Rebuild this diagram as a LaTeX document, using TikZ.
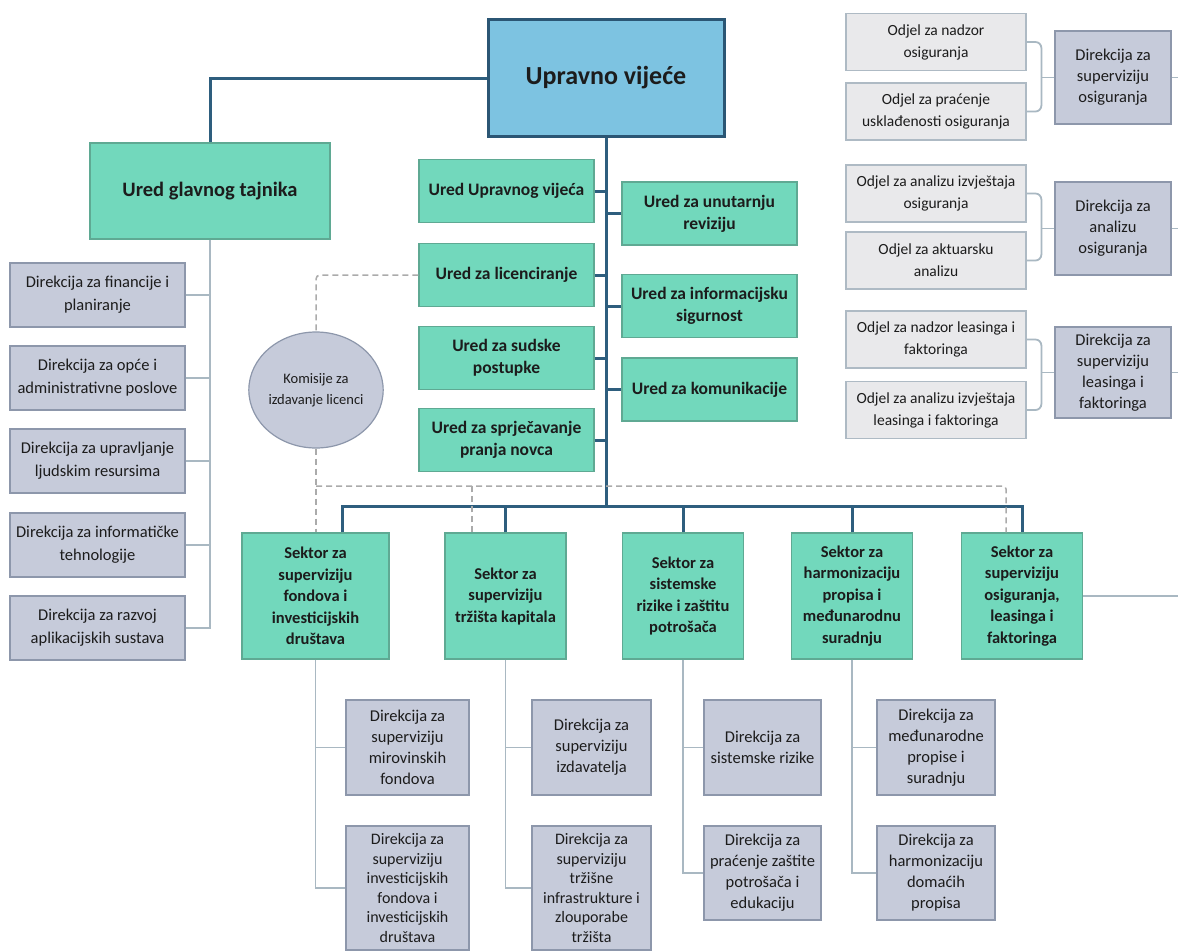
\documentclass[tikz,border=0pt]{standalone}
\usepackage{fontspec}
\setmainfont{Carlito}
\usepackage{tikz}
\usetikzlibrary{shapes.geometric}
\usetikzlibrary{positioning}
\definecolor{boardfill}{HTML}{7DC3E1}
\definecolor{boardline}{HTML}{2B5674}
\definecolor{officefill}{HTML}{72D8BC}
\definecolor{officeline}{HTML}{5FA993}
\definecolor{deptfill}{HTML}{C6CBDA}
\definecolor{deptline}{HTML}{8D97AB}
\definecolor{unitfill}{HTML}{E9E9EB}
\definecolor{unitline}{HTML}{AEBAC4}
\definecolor{trunkcol}{HTML}{2E5E7E}
\definecolor{subcol}{HTML}{A9B8C2}
\definecolor{dashcol}{HTML}{ABABAB}
\definecolor{inkcol}{HTML}{1C1C1C}

\begin{document}
\begin{tikzpicture}[x=1pt, y=-1pt,
			board/.style={draw=boardline, line width=3pt, fill=boardfill, rectangle, inner sep=0pt, minimum width=236pt, minimum height=117pt, font={\fontsize{26}{30}\selectfont\bfseries}},
			office/.style={draw=officeline, line width=1.2pt, fill=officefill, rectangle, inner sep=0pt, minimum width=175pt, minimum height=63pt, font={\fontsize{17.5}{22}\selectfont\bfseries}},
			sector/.style={office, minimum width=121pt, minimum height=126pt, font={\fontsize{16.5}{21.5}\selectfont\bfseries}},
			dept/.style={draw=deptline, line width=1.2pt, fill=deptfill, rectangle, inner sep=0pt, minimum width=175pt, minimum height=64pt, font={\fontsize{16.5}{21}\selectfont}},
			unit/.style={draw=unitline, line width=1.2pt, fill=unitfill, rectangle, inner sep=0pt, minimum width=180pt, minimum height=57pt, font={\fontsize{15.5}{22}\selectfont}},
			mainline/.style={draw=trunkcol, line width=3pt},
			subline/.style={draw=subcol, line width=1.8pt},
			dashline/.style={draw=dashcol, line width=1.5pt, dash pattern=on 6pt off 4pt},
			every node/.style={text=inkcol},
			every text node part/.style={align=center}]
			\useasboundingbox (0,0) rectangle (1178,951);
			\fill[white] (0,0) rectangle (1178,951);
			
			\node[board](upravno) at (606, 78) {Upravno vijeće};
			\node[office, minimum width=240pt, minimum height=96pt, font={\fontsize{20.5}{24}\selectfont\bfseries}](tajnik) at (210, 191) {Ured glavnog tajnika};
			\draw[mainline] (upravno.west) -| (tajnik.north);
			
			% direkcije glavnog tajnika
			\node[dept, font={\fontsize{16.5}{23}\selectfont}](financije) at (97.5, 295) {Direkcija za financije i\\planiranje};
			\node[dept, font={\fontsize{16.5}{23}\selectfont}](opce) at (97.5, 378) {Direkcija za opće i\\administrativne poslove};
			\node[dept, font={\fontsize{16.5}{23}\selectfont}](ljudski) at (97.5, 461) {Direkcija za upravljanje\\ljudskim resursima};
			\node[dept, font={\fontsize{16.5}{23}\selectfont}](informatika) at (97.5, 545) {Direkcija za informatičke\\tehnologije};
			\node[dept, font={\fontsize{16.5}{23}\selectfont}](razvoj) at (97.5, 628) {Direkcija za razvoj\\aplikacijskih sustava};
			\draw[subline] (tajnik.south) |- (razvoj.east);
			\foreach \d in {financije, opce, ljudski, informatika}
				\draw[subline] (\d.east) -- (\d.east -| tajnik.south);
			
			% uredi
			\node[office](uredUV) at (506.5, 191) {Ured Upravnog vijeća};
			\node[office](licenc) at (506.5, 275) {Ured za licenciranje};
			\node[office](sudske) at (506.5, 358) {Ured za sudske\\postupke};
			\node[office](novac) at (506.5, 440) {Ured za sprječavanje\\pranja novca};
			\node[office](revizija) at (709.5, 213.5) {Ured za unutarnju\\reviziju};
			\node[office](sigurnost) at (709.5, 306) {Ured za informacijsku\\sigurnost};
			\node[office](komunik) at (709.5, 389.5) {Ured za komunikacije};
			\foreach \u in {uredUV, licenc, sudske, novac}
				\draw[mainline] (\u.east) -- (\u.east -| upravno.south);
			\foreach \u in {revizija, sigurnost, komunik}
				\draw[mainline] (\u.west) -- (\u.west -| upravno.south);
			
			\node[ellipse, draw=deptline, line width=1.2pt, fill=deptfill, inner sep=0pt, minimum width=132pt, minimum height=116pt, font={\fontsize{14.5}{21}\selectfont}](komisija) at (316, 390) {Komisije za\\izdavanje licenci};
			
			% sektori
			\node[sector, minimum width=147pt](sfond) at (315.5, 596) {Sektor za\\superviziju\\fondova i\\investicijskih\\društava};
			\node[sector](skapital) at (505.5, 596) {Sektor za\\superviziju\\tržišta kapitala};
			\node[sector](srizik) at (683, 596) {Sektor za\\sistemske\\rizike i zaštitu\\potrošača};
			\node[sector](spropis) at (852, 596) {Sektor za\\harmonizaciju\\propisa i\\međunarodnu\\suradnju};
			\node[sector](sosig) at (1022, 596) {Sektor za\\superviziju\\osiguranja,\\leasinga i\\faktoringa};
			
			\coordinate (bus) at (606, 506);
			\coordinate (dashbus) at (316, 486);
			\coordinate (redge) at (1178, 0);
			\draw[mainline] (upravno.south) -- (bus);
			\draw[mainline] ([xshift=26.5pt]sfond.north) |- (bus) -| (sosig.north);
			\foreach \s in {skapital, srizik, spropis}
				\draw[mainline] (\s.north) -- (\s.north |- bus);
			\draw[subline] (sosig.east) -- (sosig.east -| redge);
			
			\draw[dashline, rounded corners=4pt] (licenc.west) -| (komisija.north);
			\draw[dashline] (komisija.south) -- (komisija.south |- sfond.north);
			\draw[dashline, rounded corners=3pt] (dashbus) -| ([xshift=-16pt]sosig.north);
			\draw[dashline] ([xshift=-33.5pt]skapital.north) -- ([xshift=-33.5pt]skapital.north |- dashbus);
			
			% direkcije sektora
			\node[dept, minimum width=123pt, minimum height=95pt](mirovinski) at (407.5, 747.5) {Direkcija za\\superviziju\\mirovinskih\\fondova};
			\node[dept, minimum width=123pt, minimum height=124pt, font={\fontsize{16}{19.5}\selectfont}](investicijski) at (407.5, 888) {Direkcija za\\superviziju\\investicijskih\\fondova i\\investicijskih\\društava};
			\node[dept, minimum width=119pt, minimum height=95pt](izdavatelji) at (591.5, 747.5) {Direkcija za\\superviziju\\izdavatelja};
			\node[dept, minimum width=119pt, minimum height=124pt, font={\fontsize{16}{19.5}\selectfont}](infrastruktura) at (591.5, 888) {Direkcija za\\superviziju\\tržišne\\infrastrukture i\\zlouporabe\\tržišta};
			\node[dept, minimum width=117pt, minimum height=95pt](sisrizik) at (762.5, 747.5) {Direkcija za\\sistemske rizike};
			\node[dept, minimum width=117pt, minimum height=94pt](potrosaci) at (762.5, 873) {Direkcija za\\praćenje zaštite\\potrošača i\\edukaciju};
			\node[dept, minimum width=118pt, minimum height=95pt](medjunarodni) at (936, 747.5) {Direkcija za\\međunarodne\\propise i\\suradnju};
			\node[dept, minimum width=118pt, minimum height=94pt](domaci) at (936, 873) {Direkcija za\\harmonizaciju\\domaćih\\propisa};
			
			\draw[subline] (sfond.south) |- (investicijski.west);
			\draw[subline] (mirovinski.west) -- (mirovinski.west -| sfond.south);
			\draw[subline] (skapital.south) |- (infrastruktura.west);
			\draw[subline] (izdavatelji.west) -- (izdavatelji.west -| skapital.south);
			\draw[subline] (srizik.south) |- (potrosaci.west);
			\draw[subline] (sisrizik.west) -- (sisrizik.west -| srizik.south);
			\draw[subline] (spropis.south) |- (domaci.west);
			\draw[subline] (medjunarodni.west) -- (medjunarodni.west -| spropis.south);
			
			% odjeli osiguranja, leasinga i faktoringa
			\node[unit](nadzor) at (936, 42) {Odjel za nadzor\\osiguranja};
			\node[unit](uskladjenost) at (936, 111.5) {Odjel za praćenje\\usklađenosti osiguranja};
			\node[dept, minimum width=116pt, minimum height=93pt](dsupervizija) at (1113, 77.5) {Direkcija za\\superviziju\\osiguranja};
			\node[unit](izvjestaji) at (936, 193.5) {Odjel za analizu izvještaja\\osiguranja};
			\node[unit](aktuar) at (936, 260.5) {Odjel za aktuarsku\\analizu};
			\node[dept, minimum width=116pt, minimum height=93pt](danaliza) at (1113, 228.5) {Direkcija za\\analizu\\osiguranja};
			\node[unit](nleasing) at (936, 339.5) {Odjel za nadzor leasinga i\\faktoringa};
			\node[unit](aleasing) at (936, 410) {Odjel za analizu izvještaja\\leasinga i faktoringa};
			\node[dept, minimum width=116pt, minimum height=91pt](dleasing) at (1113, 372.5) {Direkcija za\\superviziju\\leasinga i\\faktoringa};
			
			\draw[subline, rounded corners=6pt] (nadzor.east) -| ([xshift=-13pt]dsupervizija.west) |- (uskladjenost.east);
			\draw[subline] (dsupervizija.west) -- ([xshift=-13pt]dsupervizija.west);
			\draw[subline, rounded corners=6pt] (izvjestaji.east) -| ([xshift=-13pt]danaliza.west) |- (aktuar.east);
			\draw[subline] (danaliza.west) -- ([xshift=-13pt]danaliza.west);
			\draw[subline, rounded corners=6pt] (nleasing.east) -| ([xshift=-13pt]dleasing.west) |- (aleasing.east);
			\draw[subline] (dleasing.west) -- ([xshift=-13pt]dleasing.west);
			\foreach \d in {dsupervizija, danaliza, dleasing}
				\draw[subline] (\d.east) -- (\d.east -| redge);
		\end{tikzpicture}
\end{document}
